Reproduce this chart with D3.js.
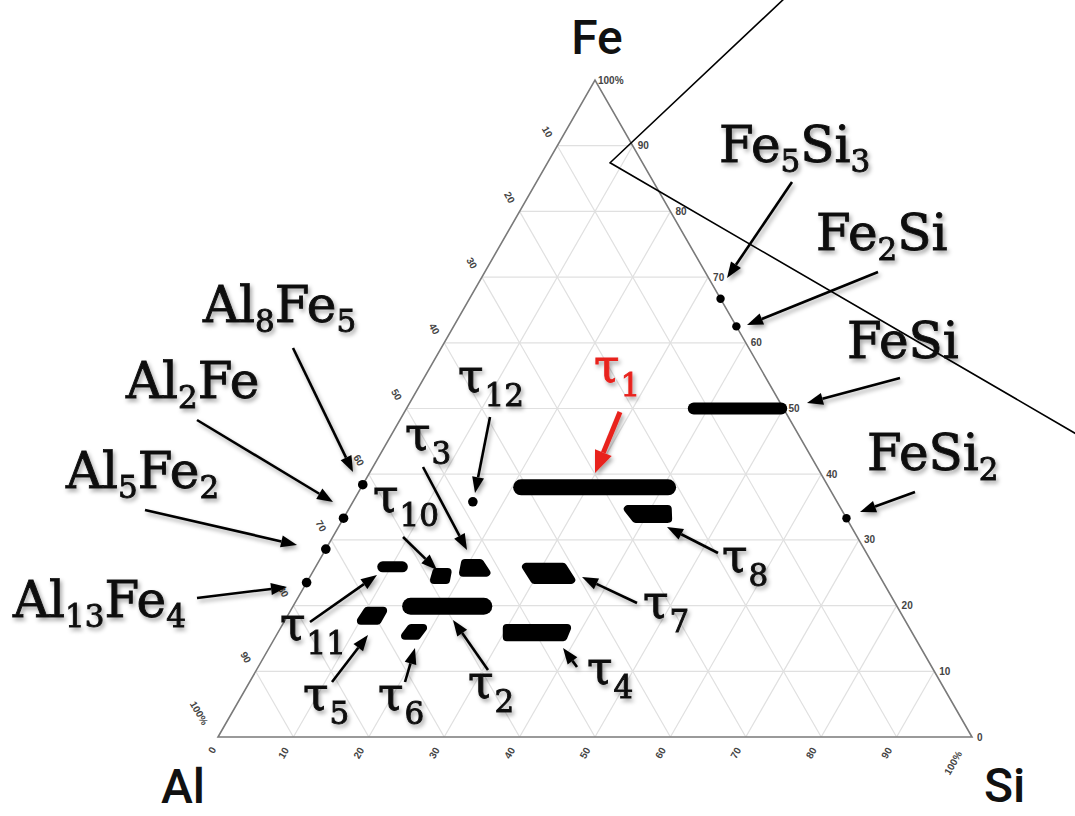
<!DOCTYPE html>
<html><head><meta charset="utf-8">
<script src="https://cdn.jsdelivr.net/npm/d3@7"></script>
<style>html,body{margin:0;padding:0;background:#fff;}svg{display:block;}</style>
</head><body>
<script>
// ---------- DATA (ternary, percent: [Fe, Si], Al = 100 - Fe - Si) ----------
const gridSteps = [10,20,30,40,50,60,70,80,90];
const leftTicks = ["10","20","30","40","50","60","70","80","90","100%"];      // Al %
const bottomTicks = ["0","10","20","30","40","50","60","70","80","90","100%"]; // Si %
const rightTicks = ["0","10","20","30","40","50","60","70","80","90","100%"];  // Fe %

const pointNames = ["Al8Fe5","Al2Fe","Al5Fe2","Al13Fe4","Fe2Si","Fe5Si3","FeSi2","τ12"];
const pointFe    = [38.4, 33.3, 28.6, 23.5, 66.7, 62.5, 33.3, 35.8];
const pointSi    = [0,    0,    0,    0,    33.3, 37.5, 66.7, 15.9];

// phase regions: list of [Fe, Si] vertices
const phaseNames = ["FeSi","τ1","τ8","τ7","τ4","τ2","τ5","τ6","τ11","τ10","τ3"];
const phaseVerts = [
  [[50,38.1],[50,49.7]],
  [[38,21.2],[38,40.7]],
  [[34.7,37.0],[34.7,42.3],[33.2,43.1],[33.2,38.8]],
  [[25.9,27.9],[25.9,32.8],[23.9,34.9],[23.9,30.0]],
  [[16.6,30.0],[16.6,38.0],[15.2,38.2],[15.2,30.7]],
  [[19.9,15.6],[19.9,25.3]],
  [[19.2,10.2],[19.2,12.3],[17.7,12.3],[17.7,10.1]],
  [[16.6,17.3],[16.6,18.9],[15.4,18.7],[15.4,17.1]],
  [[25.9,8.9],[25.9,11.5]],
  [[25.1,16.4],[25.1,17.9],[23.9,18.3],[23.9,16.7]],
  [[26.5,19.5],[26.5,21.5],[25.0,23.1],[25.0,20.0]]
];
const phaseBand = [12,16,8,8,8,17,8,8,11,8,8];

// isothermal section boundary line (ternary, extends outside triangle)
const sectionFe = [115.2, 87.4, 35.2];
const sectionSi = [20.1, 8.3, 112.6];

// ---------- LAYOUT ----------
const W = 1075, H = 816;
const corner = {alX:218, siX:972, baseY:737, apexY:80};
const sx = d3.scaleLinear().domain([0,100]).range([0, corner.siX - corner.alX]);
const sy = d3.scaleLinear().domain([0,100]).range([corner.baseY, corner.apexY]);
const proj = ([fe, si]) => [corner.alX + sx(si) + sx(fe)/2, sy(fe)];

const svg = d3.select("body").append("svg").attr("width", W).attr("height", H)
  .style("font-family","'DejaVu Serif', serif");

const defs = svg.append("defs");
const f = defs.append("filter").attr("id","shadow").attr("x","-20%").attr("y","-20%").attr("width","140%").attr("height","140%");
f.append("feDropShadow").attr("dx",2).attr("dy",3).attr("stdDeviation",2.2)
 .attr("flood-color","#000").attr("flood-opacity",0.35);

// grid
const g = svg.append("g");
const gridLines = [];
gridSteps.forEach(v => {
  gridLines.push([[v,0],[v,100-v]]);      // const Fe
  gridLines.push([[0,v],[100-v,v]]);      // const Si
  gridLines.push([[0,100-v],[100-v,0]]);  // const Al
});
const line = d3.line().x(d => proj(d)[0]).y(d => proj(d)[1]);
g.selectAll("path.grid").data(gridLines).join("path")
  .attr("d", line).attr("fill","none").attr("stroke","#e0e0e0").attr("stroke-width",1.2);

// triangle
g.append("path").attr("d", line([[0,0],[0,100],[100,0],[0,0]]) + "Z")
  .attr("fill","none").attr("stroke","#7a7a7a").attr("stroke-width",1.6);

// tick labels
const tickFont = {"font-family":"'Liberation Sans', Arial, sans-serif","font-size":"10px","font-weight":"bold","fill":"#444"};
function applyFont(sel, o){ Object.entries(o).forEach(([k,v]) => sel.attr(k,v)); return sel; }
leftTicks.forEach((t,i) => {
  const al = (i+1)*10; const [x,y] = proj([100-al,0]);
  const off = t.length > 2 ? [-19,-24] : [-10,-14];
  applyFont(g.append("text"), tickFont).attr("text-anchor","middle")
    .attr("transform",`translate(${x+off[0]},${y+off[1]}) rotate(60)`).attr("dy","0.35em").text(t);
});
bottomTicks.forEach((t,i) => {
  const si = i*10; const [x,y] = proj([0,si]);
  const off = t.length > 2 ? [-19,26] : (t.length===1 ? [-6,13] : [-10,16]);
  applyFont(g.append("text"), tickFont).attr("text-anchor","middle")
    .attr("transform",`translate(${x+off[0]},${y+off[1]}) rotate(-60)`).attr("dy","0.35em").text(t);
});
rightTicks.forEach((t,i) => {
  const fe = i*10; const [x,y] = proj([fe,100-fe]);
  applyFont(g.append("text"), tickFont).attr("text-anchor","start")
    .attr("x", x + (t.length>2 ? 3 : 5)).attr("y", y).attr("dy","0.35em").text(t);
});

// section line
const secPts = sectionFe.map((fe,i) => [fe, sectionSi[i]]);
svg.append("path").attr("d", line(secPts)).attr("fill","none").attr("stroke","#000").attr("stroke-width",1.6);

// phase regions
const marks = svg.append("g");
phaseVerts.forEach((pts,i) => {
  const closed = pts.length > 2;
  marks.append("path").attr("d", line(pts) + (closed ? "Z" : ""))
    .attr("fill", closed ? "#000" : "none").attr("stroke","#000")
    .attr("stroke-width", phaseBand[i]).attr("stroke-linejoin","round").attr("stroke-linecap","round");
});
// points
pointNames.forEach((n,i) => {
  const [x,y] = proj([pointFe[i], pointSi[i]]);
  marks.append("circle").attr("cx",x).attr("cy",y).attr("r", pointSi[i] > 20 ? 4.2 : 4.8).attr("fill","#000");
});

// ---------- ANNOTATIONS ----------
const labels = [
  {parts:[["Fe",0],["5",1],["Si",0],["3",1]], x:719, y:162},
  {parts:[["Fe",0],["2",1],["Si",0]], x:816, y:250},
  {parts:[["FeSi",0]], x:847, y:358},
  {parts:[["FeSi",0],["2",1]], x:867, y:470},
  {parts:[["Al",0],["8",1],["Fe",0],["5",1]], x:203, y:322},
  {parts:[["Al",0],["2",1],["Fe",0]], x:126, y:398},
  {parts:[["Al",0],["5",1],["Fe",0],["2",1]], x:66, y:488},
  {parts:[["Al",0],["13",1],["Fe",0],["4",1]], x:13, y:617}
];
const tauLabels = [
  {sub:"12", x:458, y:392}, {sub:"1", x:594, y:382, red:true}, {sub:"3", x:405, y:450},
  {sub:"10", x:373, y:512}, {sub:"11", x:280, y:640}, {sub:"5", x:303, y:710},
  {sub:"6", x:378, y:710}, {sub:"2", x:468, y:698}, {sub:"4", x:587, y:684},
  {sub:"7", x:643, y:618}, {sub:"8", x:722, y:572}
];
const arrows = [
  [792,182,727,278],[878,272,747,325],[900,378,807,403],[915,492,860,512],
  [293,348,353,472],[197,420,333,502],[145,510,297,545],[197,598,287,587],
  [490,417,475,493],[423,467,467,550],[403,537,437,570],[310,622,377,575],
  [332,682,368,635],[405,682,415,648],[488,670,453,620],[577,667,563,648],
  [637,603,582,577],[718,553,667,527]
];
const redArrow = [620,412,595,473];

const ann = svg.append("g").attr("filter","url(#shadow)");
labels.forEach(L => {
  const t = ann.append("text").attr("x",L.x).attr("y",L.y).attr("fill","#111")
    .attr("stroke","#111").attr("stroke-width",0.9);
  let shift = 0;
  L.parts.forEach(([s,sub]) => {
    const dy = sub ? 10 - shift : -shift;
    shift = sub ? 10 : 0;
    t.append("tspan").attr("font-size", sub ? 31 : 50).attr("dy", dy).text(s);
  });
});
tauLabels.forEach(L => {
  const c = L.red ? "#e8231f" : "#111";
  const t = ann.append("text").attr("x",L.x).attr("y",L.y).attr("fill", c)
    .attr("stroke", c).attr("stroke-width",0.9);
  t.append("tspan").attr("font-size",46).text("τ");
  t.append("tspan").attr("font-size",31).attr("dy",14).attr("dx",1).text(L.sub);
});
function arrow(sel, [x1,y1,x2,y2], color, w, hl, hw){
  const a = Math.atan2(y2-y1, x2-x1);
  const bx = x2 - hl*Math.cos(a), by = y2 - hl*Math.sin(a);
  sel.append("line").attr("x1",x1).attr("y1",y1).attr("x2",bx).attr("y2",by)
    .attr("stroke",color).attr("stroke-width",w);
  const px = -Math.sin(a)*hw/2, py = Math.cos(a)*hw/2;
  sel.append("path").attr("d",`M${x2},${y2}L${bx+px},${by+py}L${bx-px},${by-py}Z`).attr("fill",color);
}
arrows.forEach(a => arrow(ann, a, "#000", 2.6, 16, 12));
arrow(ann, redArrow, "#e8231f", 5, 22, 18);

// corner element labels
const corners = svg.append("g").attr("font-family","Roboto, 'Liberation Sans', Arial, sans-serif")
  .attr("font-size",48).attr("font-weight",500).attr("fill","#111");
corners.append("text").attr("x",597).attr("y",54).attr("text-anchor","middle").text("Fe");
corners.append("text").attr("x",161).attr("y",803).text("Al");
corners.append("text").attr("x",984).attr("y",802).text("Si");
</script>
</body></html>
